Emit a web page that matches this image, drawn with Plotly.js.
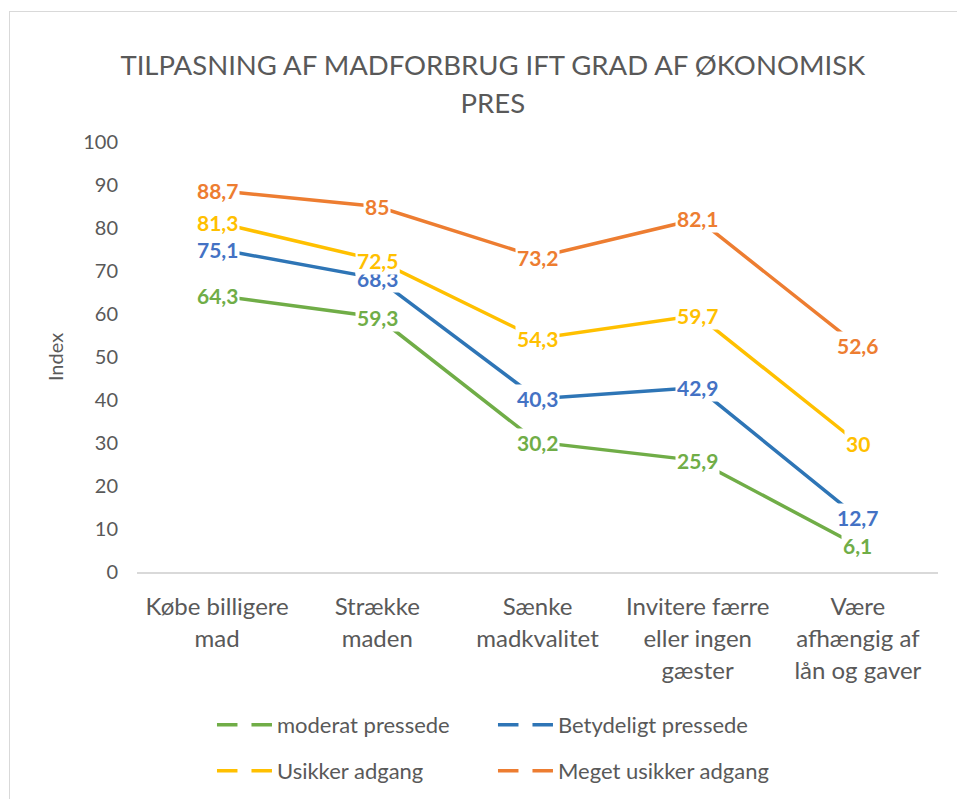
<!DOCTYPE html>
<html>
<head>
<meta charset="utf-8">
<script src="https://cdn.plot.ly/plotly-3.0.1.min.js"></script>
<style>
  html, body { margin: 0; padding: 0; background: #fff; }
  #wrap { position: relative; width: 957px; height: 799px; overflow: hidden; }
  #chart { width: 957px; height: 799px; }
  #frame { position: absolute; left: 9px; top: 11px; width: 1000px; height: 900px;
           border-left: 1.5px solid #d9d9d9; border-top: 1.5px solid #d9d9d9; pointer-events: none; }
</style>
</head>
<body>
<div id="wrap">
  <div id="chart"></div>
  <div id="frame"></div>
</div>
<script>
const categories = ['Købe billigere<br>mad', 'Strække<br>maden', 'Sænke<br>madkvalitet',
                    'Invitere færre<br>eller ingen<br>gæster', 'Være<br>afhængig af<br>lån og gaver'];
const seriesNames = ['moderat pressede', 'Betydeligt pressede', 'Usikker adgang', 'Meget usikker adgang'];
const moderat = [64.3, 59.3, 30.2, 25.9, 6.1];
const betydeligt = [75.1, 68.3, 40.3, 42.9, 12.7];
const usikker = [81.3, 72.5, 54.3, 59.7, 30];
const megetUsikker = [88.7, 85, 73.2, 82.1, 52.6];
const yTicks = [0, 10, 20, 30, 40, 50, 60, 70, 80, 90, 100];

const seriesValues = [moderat, betydeligt, usikker, megetUsikker];
const lineColors = ['#70AD47', '#2E75B6', '#FFC000', '#ED7D31'];
const labelColors = ['#70AD47', '#4472C4', '#FFC000', '#ED7D31'];
const legendIds = ['legend', 'legend', 'legend2', 'legend2'];
const FONT = 'Lato, "Open Sans", sans-serif';

const traces = seriesValues.map((vals, i) => ({
  type: 'scatter',
  mode: 'lines+markers',
  name: seriesNames[i],
  x: categories,
  y: vals,
  line: { color: lineColors[i], width: 3.5 },
  marker: { symbol: 'square', color: '#ffffff', size: 14, line: { width: 0 } },
  legend: legendIds[i],
  hoverinfo: 'skip'
}));

const annotations = [];
seriesValues.forEach((vals, i) => {
  vals.forEach((v, j) => {
    annotations.push({
      x: categories[j], y: v, xref: 'x', yref: 'y',
      text: String(v).replace('.', ','),
      showarrow: false,
      xanchor: 'center', yanchor: 'middle',
      bgcolor: '#ffffff', borderpad: 1,
      font: { family: FONT, size: 21, color: labelColors[i], weight: 'bold' }
    });
  });
});

const tickText = categories.map(c => c.split('<br>').map(l => '<span style="font-size:24px">' + l + '</span>').join('<br>'));

const legendBase = {
  orientation: 'h',
  xref: 'paper', yref: 'container',
  x: 0.0936, xanchor: 'left',
  yanchor: 'middle',
  font: { family: FONT, size: 22, color: '#595959' },
  bgcolor: 'rgba(0,0,0,0)',
  itemwidth: 55,
  entrywidth: 211,
  itemclick: false, itemdoubleclick: false
};

const layout = {
  width: 957, height: 799,
  margin: { l: 137, r: 19, t: 142, b: 227 },
  paper_bgcolor: '#ffffff', plot_bgcolor: '#ffffff',
  font: { family: FONT, color: '#595959' },
  title: {
    text: '<span style="font-size:27.5px">TILPASNING AF MADFORBRUG IFT GRAD AF ØKONOMISK</span><br><span style="font-size:27.5px">PRES</span>',
    font: { family: FONT, size: 29, color: '#595959', weight: 400 },
    xref: 'container', x: 0.515, xanchor: 'center',
    yref: 'container', y: 1 - 75 / 799, yanchor: 'top'
  },
  xaxis: {
    type: 'category',
    range: [-0.5, 4.5],
    tickvals: categories, ticktext: tickText,
    tickfont: { family: FONT, size: 24.6, color: '#595959' },
    showgrid: false, zeroline: false,
    showline: true, linecolor: '#d9d9d9', linewidth: 1.5,
    ticks: '', ticklabelstandoff: 12, fixedrange: true, automargin: false
  },
  yaxis: {
    range: [0, 100],
    tickvals: yTicks,
    tickfont: { family: FONT, size: 20, color: '#595959' },
    showgrid: false, zeroline: false, showline: false,
    ticks: '', ticklabelstandoff: 18,
    title: { text: 'Index', font: { family: FONT, size: 20, color: '#595959' }, standoff: 14 },
    fixedrange: true, automargin: false
  },
  showlegend: true,
  legend: Object.assign({}, legendBase, { y: 1 - 725 / 799 }),
  legend2: Object.assign({}, legendBase, { y: 1 - 771 / 799 }),
  annotations: annotations
};

Plotly.newPlot('chart', traces, layout, { displayModeBar: false });
</script>
</body>
</html>
